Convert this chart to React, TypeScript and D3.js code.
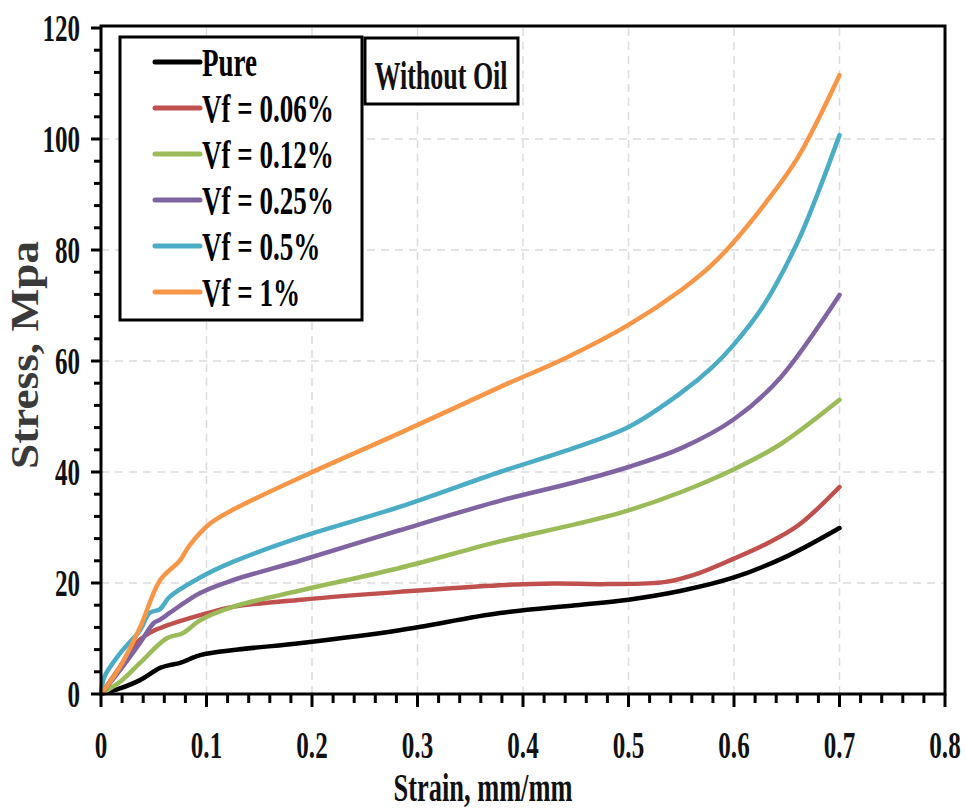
import React from "react";
import * as d3 from "d3";

// strain (mm/mm), stress (MPa)
const pure = [[0,0],[0.018,1],[0.037,2.5],[0.056,4.7],[0.065,5.2],[0.075,5.6],[0.094,7],[0.13,8],[0.19,9.2],[0.283,11.5],[0.378,14.6],[0.45,16],[0.5,17],[0.55,18.6],[0.6,21],[0.65,24.8],[0.7,29.9]];
const vf006 = [[0,0],[0.018,4.9],[0.03,8.5],[0.046,11],[0.062,12.3],[0.094,14.2],[0.125,15.7],[0.19,17],[0.283,18.4],[0.378,19.6],[0.43,19.9],[0.48,19.8],[0.535,20.2],[0.567,21.8],[0.6,24.4],[0.63,27],[0.661,30.4],[0.7,37.3]];
const vf012 = [[0,0],[0.018,2.2],[0.037,5.6],[0.062,10],[0.078,11],[0.094,13.3],[0.125,15.7],[0.19,18.7],[0.283,22.7],[0.378,27.5],[0.45,30.6],[0.5,33.1],[0.55,36.4],[0.6,40.5],[0.644,45],[0.7,53]];
const vf025 = [[0,0],[0.018,4.3],[0.037,9.2],[0.05,12.8],[0.056,13.4],[0.065,14.6],[0.094,18.2],[0.125,20.5],[0.19,24.1],[0.283,29.5],[0.378,34.8],[0.45,38.2],[0.5,40.9],[0.55,44.3],[0.6,49.5],[0.644,57],[0.7,71.9]];
const vf05 = [[0,0],[0.003,3],[0.018,7.3],[0.037,11.5],[0.046,14.6],[0.056,15.3],[0.065,17.5],[0.094,21],[0.125,23.8],[0.19,28.3],[0.283,33.7],[0.378,40],[0.44,43.8],[0.5,48.1],[0.55,54.3],[0.58,59],[0.6,63],[0.628,70],[0.66,81.3],[0.681,91],[0.7,100.7]];
const vf1 = [[0,0],[0.018,4.9],[0.037,12],[0.056,20.5],[0.075,24.1],[0.084,26.8],[0.104,30.8],[0.125,33.2],[0.19,39.1],[0.283,47],[0.378,55.3],[0.44,60.5],[0.5,66.5],[0.55,72.8],[0.58,77.5],[0.6,81.5],[0.63,88.5],[0.66,96.5],[0.7,111.5]];

const seriesNames = ["Pure", "Vf = 0.06%", "Vf = 0.12%", "Vf = 0.25%", "Vf = 0.5%", "Vf = 1%"];
const seriesData = [pure, vf006, vf012, vf025, vf05, vf1];
const colors = ["#000000", "#c0504d", "#9bbb59", "#8064a2", "#4bacc6", "#f79646"];

const xTicks = [0, 0.1, 0.2, 0.3, 0.4, 0.5, 0.6, 0.7, 0.8];
const yTicks = [0, 20, 40, 60, 80, 100, 120];

const W = 966, H = 810;
const left = 101, right = 945, top = 28, bottom = 694;
const FONT = "'Liberation Serif', 'Times New Roman', serif";

// the original figure is squeezed horizontally, so text is drawn narrow
function Label({ x, y, anchor = "start", size = 38, sx = 0.66, children, fill = "#111" }: any) {
  return (
    <text transform={`translate(${x},${y}) scale(${sx},1)`} textAnchor={anchor}
      fontFamily={FONT} fontWeight="bold" fontSize={size} fill={fill}>{children}</text>
  );
}

export default function App() {
  const x = d3.scaleLinear().domain([0, 0.8]).range([left, right]);
  const y = d3.scaleLinear().domain([0, 120]).range([bottom, top]);
  const line = d3.line<number[]>().x(d => x(d[0])).y(d => y(d[1])).curve(d3.curveCatmullRom.alpha(0.5));

  const xMinor = d3.range(0, 0.8001, 0.02);
  const yMinor = d3.range(0, 120.01, 4);

  return (
    <svg width={W} height={H} style={{ position: "absolute", left: 0, top: 0, background: "#fff" }}>
      {/* grid */}
      {xTicks.slice(1, -1).map(t => (
        <line key={"gx" + t} x1={x(t)} x2={x(t)} y1={top} y2={bottom} stroke="#dcdcdc" strokeWidth={1.5} strokeDasharray="8,6" />
      ))}
      {yTicks.slice(1, -1).map(t => (
        <line key={"gy" + t} x1={left} x2={right} y1={y(t)} y2={y(t)} stroke="#dcdcdc" strokeWidth={1.5} strokeDasharray="8,6" />
      ))}

      {/* curves */}
      {seriesData.map((d, i) => (
        <path key={seriesNames[i]} d={line(d as number[][]) || ""} fill="none" stroke={colors[i]} strokeWidth={4.5} strokeLinejoin="round" strokeLinecap="round" />
      ))}

      {/* frame */}
      <rect x={left} y={top - 2} width={right - left} height={bottom - top + 2} fill="none" stroke="#000" strokeWidth={3} />

      {/* ticks */}
      {xMinor.map(t => {
        const major = Math.abs(t * 10 - Math.round(t * 10)) < 1e-6;
        return <line key={"xt" + t} x1={x(t)} x2={x(t)} y1={bottom} y2={bottom + (major ? 13 : 9)} stroke="#000" strokeWidth={3} />;
      })}
      {yMinor.map(t => {
        const major = t % 20 === 0;
        return <line key={"yt" + t} x1={left} x2={left - (major ? 10 : 7)} y1={y(t)} y2={y(t)} stroke="#000" strokeWidth={3} />;
      })}

      {xTicks.map(t => (
        <Label key={"xl" + t} x={x(t)} y={758} anchor="middle">{t === 0 ? "0" : d3.format(".1f")(t)}</Label>
      ))}
      {yTicks.map(t => (
        <Label key={"yl" + t} x={80} y={y(t) + 13} anchor="end">{t}</Label>
      ))}

      {/* axis titles */}
      <Label x={483} y={801} anchor="middle" size={40} sx={0.66}>Strain, mm/mm</Label>
      <text transform="translate(38,355) rotate(-90)" textAnchor="middle" fontFamily={FONT} fontWeight="bold"
        fontSize={40} fill="#3a3a3a" textLength={228} lengthAdjust="spacingAndGlyphs">Stress, Mpa</text>

      {/* legend */}
      <rect x={120} y={37} width={242} height={283} fill="#fff" stroke="#000" strokeWidth={3} />
      {seriesNames.map((n, i) => {
        const cy = 62 + i * 46;
        return (
          <g key={"lg" + n}>
            <line x1={155} x2={200} y1={cy} y2={cy} stroke={colors[i]} strokeWidth={5} strokeLinecap="round" />
            <Label x={202} y={cy + 14} size={41} sx={0.66} fill="#000">{n}</Label>
          </g>
        );
      })}

      {/* annotation */}
      <rect x={365} y={38} width={153} height={66} fill="#fff" stroke="#000" strokeWidth={3} />
      <Label x={441} y={89} anchor="middle" size={40} sx={0.65} fill="#111">Without Oil</Label>
    </svg>
  );
}
